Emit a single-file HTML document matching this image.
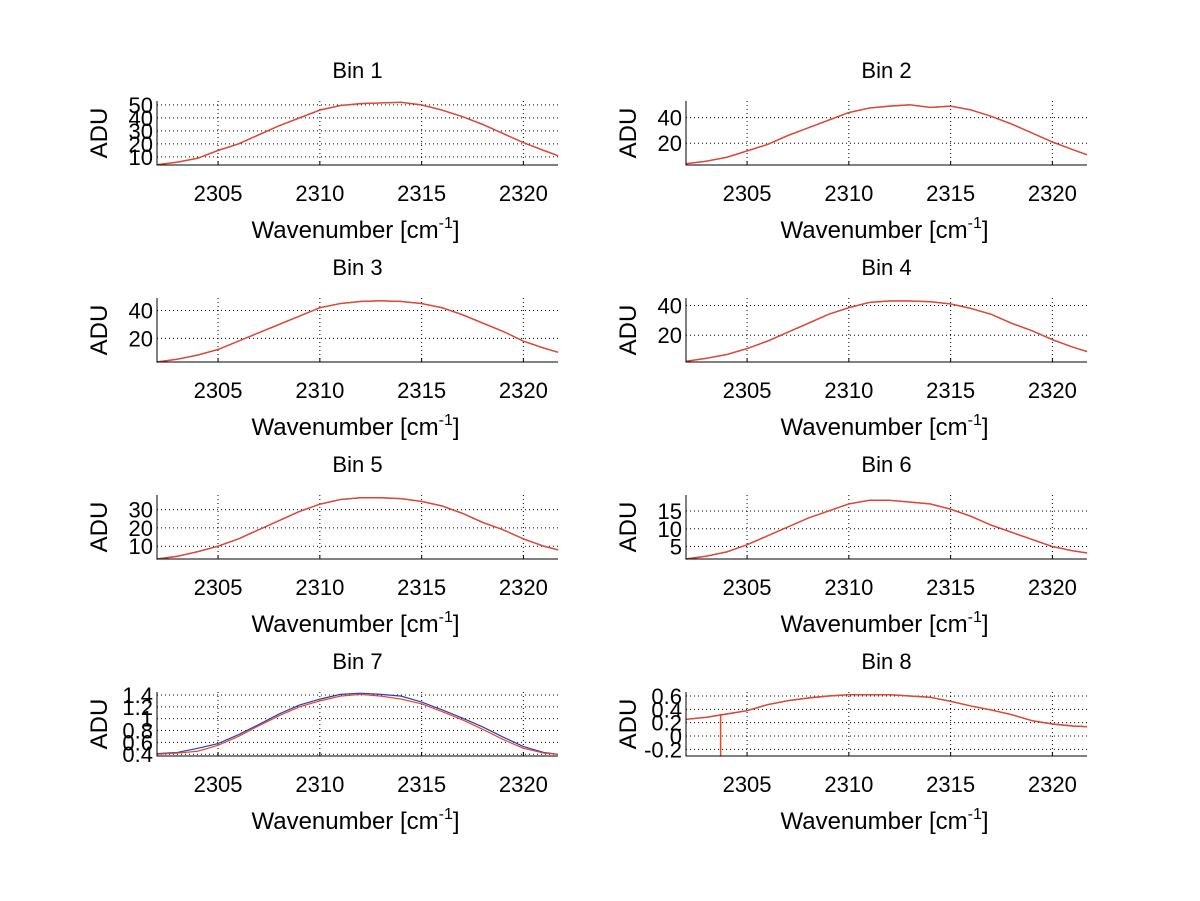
<!DOCTYPE html>
<html><head><meta charset="utf-8"><style>
body{margin:0;background:#fff;}
svg{display:block;font-family:"Liberation Sans",sans-serif;}
</style></head><body>
<svg id="c" width="1200" height="901"></svg>
<script>
const wavenumbers=[2302,2303,2304,2305,2306,2307,2308,2309,2310,2311,2312,2313,2314,2315,2316,2317,2318,2319,2320,2321,2321.7];
const bin1=[4,6,9,15,20,27,34,40,46,49.5,51,51.5,52,50,46,41,35,28,21,15,11];
const bin2=[4,6,9,14,19,26,32,38,44,47.5,49,50,48,49,46,41,35,28,21,15,11];
const bin3=[3,5,8,12,18,24,30,36,42,45,46.5,47,46.5,45,42,37,31,25,18,13,10];
const bin4=[2.5,4.5,7,11,16,22,28,34,38.5,42,43,43,42.5,41,38,34,28,23,17,12,9];
const bin5=[3,4.5,7,10,14,19,24,29,33,35.5,36.5,36.5,36,34.5,32,28,23,19,14,10,8];
const bin6=[1.5,2.3,3.5,5.5,8,10.5,13,15,17,18,18,17.5,17,15.5,13.5,11,9,7,5,3.8,3.2];
const bin7=[0.4,0.42,0.45,0.55,0.7,0.88,1.05,1.2,1.3,1.38,1.41,1.38,1.33,1.25,1.12,0.98,0.82,0.65,0.5,0.42,0.4];
const bin7b=[0.41,0.43,0.5,0.58,0.73,0.9,1.08,1.23,1.33,1.41,1.43,1.41,1.38,1.28,1.15,1.01,0.86,0.69,0.53,0.43,0.4];
const bin8=[0.25,0.28,0.33,0.38,0.47,0.53,0.57,0.6,0.62,0.62,0.62,0.6,0.58,0.52,0.45,0.39,0.32,0.23,0.18,0.15,0.14];
const bin8Spike=[2303.7,-0.3];
const bins=[bin1,bin2,bin3,bin4,bin5,bin6,bin7,bin8];
const yRanges=[[3.8,53],[3,53],[3,49],[2,45],[3,38],[1.5,19.5],[0.37,1.45],[-0.3,0.66]];
const yTicks=[[10,20,30,40,50],[20,40],[20,40],[20,40],[10,20,30],[5,10,15],[0.4,0.6,0.8,1,1.2,1.4],[-0.2,0,0.2,0.4,0.6]];
const xTicks=[2305,2310,2315,2320];
const xMin=2302,xMax=2321.7;
const svg=document.getElementById('c');
const NS='http://www.w3.org/2000/svg';
function mk(tag,attrs,parent){const e=document.createElementNS(NS,tag);for(const k in attrs)e.setAttribute(k,attrs[k]);(parent||svg).appendChild(e);return e;}
const lefts=[157,686],W=401,H=64,tops=[101,298,495,692];
bins.forEach((vals,i)=>{
  const L=lefts[i%2],T=tops[Math.floor(i/2)],[y0,y1]=yRanges[i];
  const sx=x=>L+(x-xMin)/(xMax-xMin)*W;
  const sy=y=>T+H-(y-y0)/(y1-y0)*H;
  const g=mk('g',{});
  
  
  xTicks.forEach(t=>{const l=mk('line',{x1:sx(t),x2:sx(t),y1:T,y2:T+H,stroke:'#000','stroke-dasharray':'1,3','stroke-width':1},g);
    
    mk('line',{x1:sx(t),x2:sx(t),y1:T+H,y2:T+H-4,stroke:'#000'},g);
    const tx=mk('text',{x:sx(t),y:T+H+36,'font-size':22,'text-anchor':'middle'},g);tx.textContent=t;
    });
  yTicks[i].forEach(t=>{const l=mk('line',{x1:L,x2:L+W,y1:sy(t),y2:sy(t),stroke:'#000','stroke-dasharray':'1,3','stroke-width':1},g);
    
    const tx=mk('text',{x:L-4,y:sy(t)+8,'font-size':22,'text-anchor':'end'},g);tx.textContent=t;
    });
  const pts=a=>a.map((v,j)=>sx(wavenumbers[j])+','+sy(v)).join(' ');
  if(i===6){const b=mk('polyline',{points:pts(bin7b),fill:'none',stroke:'#1f3fd0','stroke-width':1.2},g);
    }
  else{const b=mk('polyline',{points:pts(vals),fill:'none',stroke:'#7a3a8a','stroke-width':1.4},g);
    }
  const r=mk('polyline',{points:pts(vals),fill:'none',stroke:'#f0461e','stroke-width':1.2},g);
  
  if(i===7){const s=mk('line',{x1:sx(bin8Spike[0]),x2:sx(bin8Spike[0]),y1:sy(0.33),y2:sy(bin8Spike[1]),stroke:'#f0461e','stroke-width':1.5},g);
    }
  const ax=mk('path',{d:`M${L},${T} L${L},${T+H} L${L+W},${T+H}`,fill:'none',stroke:'#000','stroke-width':1},g);
  
  const ti=mk('text',{x:L+W/2,y:T-23,'font-size':22,'text-anchor':'middle'},g);ti.textContent='Bin '+(i+1);
  
  const yl=mk('text',{x:0,y:0,'font-size':24,'text-anchor':'middle',transform:`translate(${L-50},${T+H/2}) rotate(-90)`},g);yl.textContent='ADU';
  
  const xl=mk('text',{x:L+W/2-2,y:T+H+73,'font-size':24,'text-anchor':'middle'},g);
  xl.innerHTML='Wavenumber [cm<tspan dy="-10" font-size="16">-1</tspan><tspan dy="10">]</tspan>';
  
});
</script>
</body></html>
